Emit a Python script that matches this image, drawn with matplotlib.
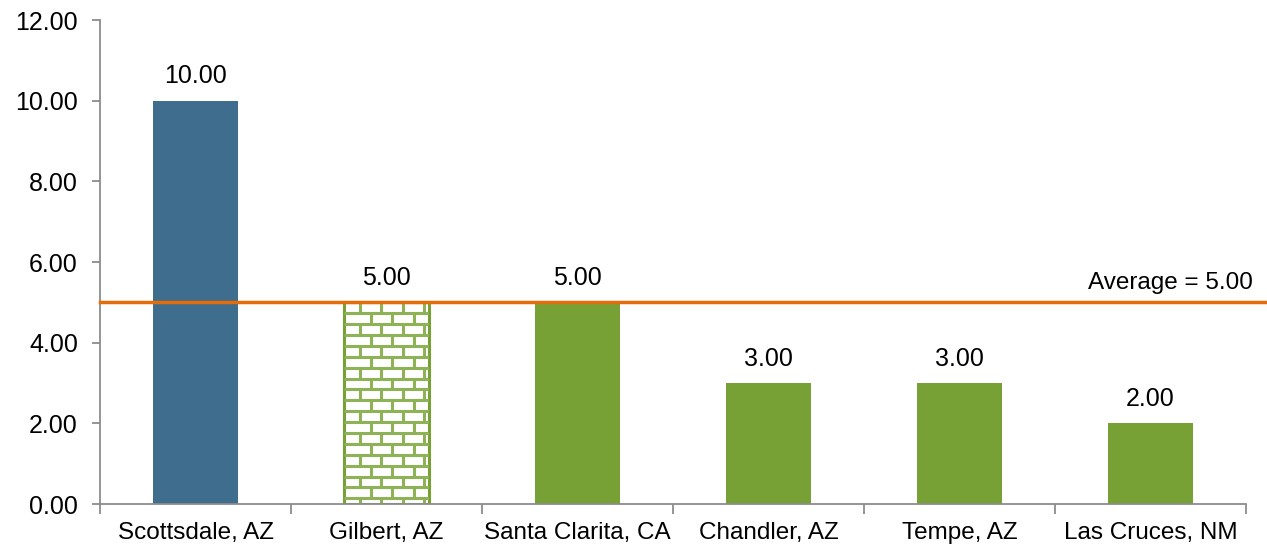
import numpy as np
import matplotlib
matplotlib.use("Agg")
import matplotlib.pyplot as plt
from matplotlib.collections import LineCollection

plt.rcParams["font.family"] = ["Liberation Sans", "DejaVu Sans"]

# ==========================
# DATOS
# ==========================

cities = ["Scottsdale, AZ", "Gilbert, AZ", "Santa Clarita, CA",
          "Chandler, AZ", "Tempe, AZ", "Las Cruces, NM"]
values = [10.0, 5.0, 5.0, 3.0, 3.0, 2.0]
average = 5.0
y_ticks = [0, 2, 4, 6, 8, 10, 12]

# estilo de cada barra: relleno sólido o ladrillo
bar_styles = ["solid", "brick", "solid", "solid", "solid", "solid"]
bar_colors = ["#3E6D8E", "#77A134", "#77A134", "#77A134", "#77A134", "#77A134"]

GREEN = "#77A134"
ORANGE = "#E46C0A"
GRAY = "#8C8C8C"
BRICK_H = 0.27   # alto de una hilera (unidades de datos)
BRICK_W = 0.113  # ancho de un ladrillo (unidades de eje x)
FS = 17.5


def brick_lines(x0, x1, y0, y1):
    """Segmentos de un patrón de ladrillos dentro del rectángulo dado."""
    segs = []
    n_rows = int(np.ceil((y1 - y0) / BRICK_H))
    for r in range(n_rows + 1):
        ya = y1 - r * BRICK_H
        segs.append([(x0, ya), (x1, ya)])
        yb = ya - BRICK_H
        offset = 0.0 if r % 2 == 0 else BRICK_W / 2
        x = x0 + offset + BRICK_W * 0.75
        while x < x1:
            segs.append([(x, ya), (x, yb)])
            x += BRICK_W
    return segs


fig = plt.figure(figsize=(12.67, 5.5), dpi=100)
ax = fig.add_axes([100 / 1267, 46 / 550, 1146 / 1267, 484 / 550])

x = np.arange(len(cities))
width = 0.45

for xi, val, style, color in zip(x, values, bar_styles, bar_colors):
    if style == "brick":
        bar = ax.bar(xi, val, width=width, color="white", edgecolor=GREEN,
                     linewidth=2.2, zorder=2)[0]
        lc = LineCollection(brick_lines(xi - width / 2, xi + width / 2, 0, val),
                            colors="#8DB356", linewidths=2.2, zorder=2.5)
        ax.add_collection(lc)
        lc.set_clip_path(bar)
    else:
        ax.bar(xi, val, width=width, color=color, zorder=2)
    ax.annotate(f"{val:.2f}", (xi, val), xytext=(0, 9), textcoords="offset points",
                ha="center", va="bottom", fontsize=FS + 0.5, color="black")

# línea del promedio
ax.axhline(average, xmin=0, xmax=1.02, color=ORANGE, linewidth=2.5,
           zorder=4, clip_on=False)
ax.annotate(f"Average = {average:.2f}", (1.006, average),
            xycoords=("axes fraction", "data"), xytext=(0, 6),
            textcoords="offset points", ha="right", va="bottom", fontsize=FS)

ax.set_xlim(-0.5, len(cities) - 0.5)
ax.set_ylim(0, 12)
ax.set_yticks(y_ticks)
ax.set_yticklabels([f"{t:.2f}" for t in y_ticks])

ax.set_xticks(x)
ax.set_xticklabels(cities)
ax.set_xticks(np.arange(len(cities) + 1) - 0.5, minor=True)
ax.tick_params(axis="x", which="major", length=0, pad=13, labelsize=FS)
ax.tick_params(axis="x", which="minor", length=7, width=1.3, color=GRAY)
ax.tick_params(axis="y", length=6, width=1.3, color=GRAY, pad=10, labelsize=FS + 0.5)

for side in ["top", "right"]:
    ax.spines[side].set_visible(False)
for side in ["left", "bottom"]:
    ax.spines[side].set_color(GRAY)
    ax.spines[side].set_linewidth(1.3)

fig.savefig("out.png", dpi=100)
